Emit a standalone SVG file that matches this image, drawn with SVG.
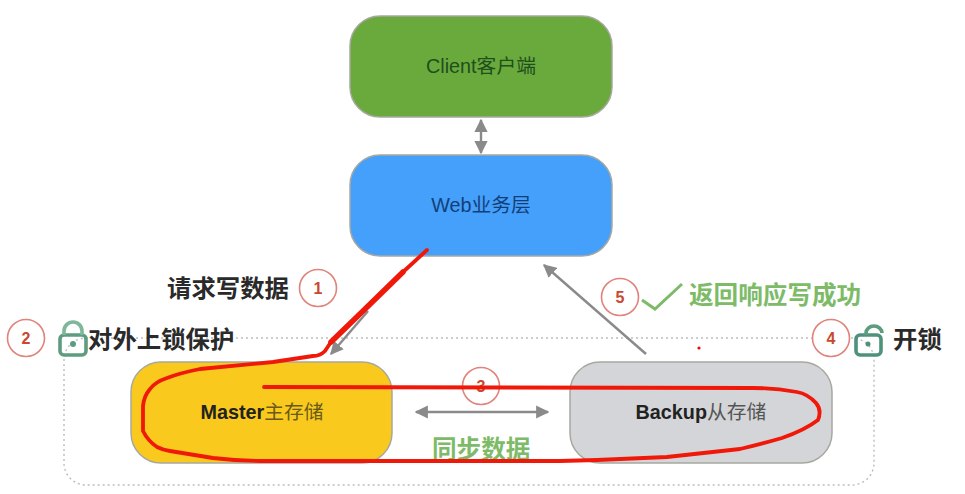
<svg xmlns="http://www.w3.org/2000/svg" width="965" height="494" viewBox="0 0 965 494">
<style>
text{font-family:"Liberation Sans","Noto Sans CJK SC",sans-serif}
.box{stroke:#a8a8a0;stroke-width:1.5}
.nl{font-size:19.8px;text-anchor:middle}
.lab{font-size:24.4px;font-weight:700;fill:#2a2a2a;font-family:"Noto Sans CJK SC",sans-serif}
.gl{font-size:24.6px;font-weight:700;fill:#7dbb68;font-family:"Noto Sans CJK SC",sans-serif}
.circ{fill:#fff;stroke:#e0837a;stroke-width:1.6}
.num{font-size:16px;font-weight:700;fill:#c9482f;text-anchor:middle}
.conn{stroke:#8a8a8a;stroke-width:2.4;fill:none}
.red{fill:none;stroke:#f01808;stroke-width:3.8;stroke-linecap:round;stroke-linejoin:round}
.lock{fill:none;stroke-width:3.6}
</style>
<defs>
<marker id="a" viewBox="0 0 10 10" refX="9" refY="5" markerWidth="5.5" markerHeight="5.5" orient="auto-start-reverse"><path d="M0 0L10 5L0 10Z" fill="#8a8a8a"/></marker>
</defs>
<rect width="965" height="494" fill="#fff"/>
<rect id="frame" x="64" y="338" width="810" height="147" rx="22" fill="none" stroke="#bdbdbd" stroke-width="1.4" stroke-dasharray="2 3"/>
<g id="connectors">
<path class="conn" marker-start="url(#a)" marker-end="url(#a)" d="M481 120V153"/>
<path class="conn" marker-end="url(#a)" d="M368 311L331 354"/>
<path class="conn" marker-end="url(#a)" d="M646 354L544 265"/>
<path class="conn" marker-start="url(#a)" marker-end="url(#a)" d="M416 412H548"/>
</g>
<g id="client"><rect class="box" x="350" y="16" width="262" height="101" rx="30" fill="#6aaa3c"/><text class="nl" x="481" y="73" fill="#1f4f1c">Client客户端</text></g>
<g id="web"><rect class="box" x="350" y="155" width="262" height="101" rx="30" fill="#45a0fb"/><text class="nl" x="481" y="212" fill="#123f7a">Web业务层</text></g>
<g id="master"><rect class="box" x="131" y="362" width="261" height="101" rx="30" fill="#f9ca1d"/><text class="nl" x="262" y="419" fill="#222"><tspan font-weight="700">Master</tspan><tspan fill="#6a5a18">主存储</tspan></text></g>
<g id="backup"><rect class="box" x="570" y="362" width="262" height="101" rx="30" fill="#d4d5d8"/><text class="nl" x="701" y="419" fill="#222"><tspan font-weight="700">Backup</tspan><tspan fill="#555">从存储</tspan></text></g>
<g id="step1"><text class="lab" x="167" y="297">请求写数据</text><circle class="circ" cx="318" cy="288" r="18.5"/><text class="num" x="318" y="294">1</text></g>
<g id="step2"><circle class="circ" cx="26" cy="338" r="18.5"/><text class="num" x="26" y="344">2</text>
<rect x="60" y="335" width="26" height="20" rx="4" class="lock" stroke="#5e9c80"/><path class="lock" stroke="#7fb79a" d="M64 335V331a9 9 0 0 1 18 0V335"/><circle cx="73" cy="344" r="3" fill="#5e9c80"/>
<text class="lab" x="88" y="348">对外上锁保护</text></g>
<g id="step3"><circle class="circ" cx="481" cy="386" r="18.5"/><text class="num" x="481" y="392">3</text></g>
<g id="step4"><circle class="circ" cx="831" cy="338" r="18.5"/><text class="num" x="831" y="344">4</text>
<rect x="856" y="335" width="25" height="20" rx="4" class="lock" stroke="#4f927c"/><path class="lock" stroke="#5e9c80" d="M866 335V333a8 7 0 0 1 16 0"/><circle cx="868" cy="344" r="2.5" fill="#4f927c"/>
<text class="lab" x="893" y="348">开锁</text></g>
<g id="step5"><circle class="circ" cx="620" cy="297" r="18.5"/><text class="num" x="620" y="303">5</text>
<path d="M642 300L655 309L682 284" fill="none" stroke="#7dbb68" stroke-width="3"/>
<text class="gl" x="689" y="304">返回响应写成功</text></g>
<text class="gl" x="432" y="458">同步数据</text>
<g id="annotation">
<path class="red" d="M427 250L403 272L363 311L331 342L325 351Q320 356 313 356L273 362L200 369Q180 373 167 378Q155 382 150 389Q144 396 143 406L143 431Q148 441 157 447Q163 450 170 451L213 458Q240 461 267 461H560L597 460L667 457L740 449Q765 443 782 438Q805 430 818 420Q822 410 816 403Q808 394 797 392Q775 388 753 388L264 387"/>
<path class="red" style="stroke-width:5.5" d="M403 272L363 311L331 342"/>
<circle cx="699" cy="348" r="1.6" fill="#e01010"/>
</g>
</svg>
